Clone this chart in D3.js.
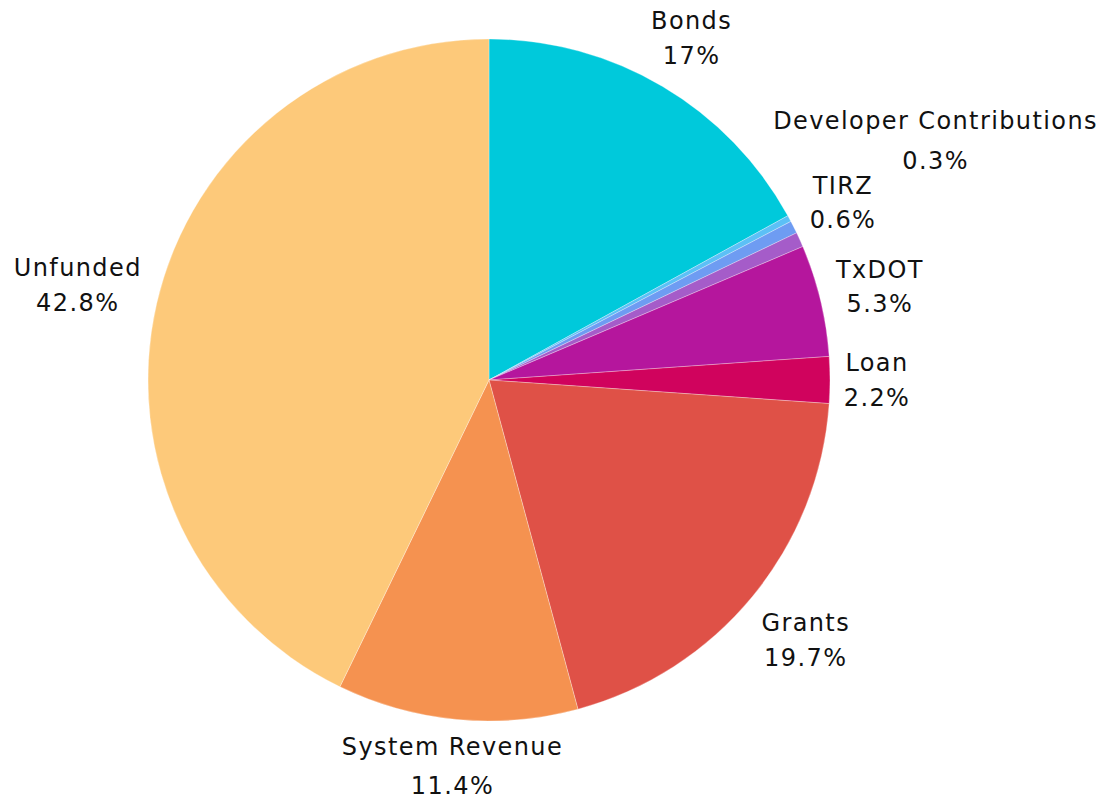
<!DOCTYPE html>
<html>
<head>
<meta charset="utf-8">
<script src="https://cdn.jsdelivr.net/npm/d3@7"></script>
<style>
  html, body { margin: 0; padding: 0; background: #ffffff; }
  svg { display: block; }
  text { font-family: "DejaVu Sans", "Open Sans", sans-serif; fill: #111; letter-spacing: 1.4px; }
</style>
</head>
<body>
<svg id="chart" width="1111" height="804"></svg>
<script>
// Data (clockwise from 12 o'clock)
const categories = ["Bonds", "Developer Contributions", "TIRZ", "Other", "TxDOT", "Loan", "Grants", "System Revenue", "Unfunded"];
const shares     = [17, 0.3, 0.6, 0.7, 5.3, 2.2, 19.7, 11.4, 42.8];
const valueLabels = ["17%", "0.3%", "0.6%", "", "5.3%", "2.2%", "19.7%", "11.4%", "42.8%"];
const showLabel  = [true, true, true, false, true, true, true, true, true];
const colors     = ["#00C9DB", "#5CC0F6", "#6E9CF2", "#A55CC9", "#B5169D", "#D0035D", "#DF5147", "#F59250", "#FDC97A"];

// Layout
const W = 1111, H = 804;
const cx = 489, cy = 380, R = 341;
const labelR   = [398, 507, 396, 0, 402, 388, 410, 388, 422];
const lineGap  = [35, 40, 34, 0, 34, 35, 35, 39, 35];

const svg = d3.select("#chart");
const g = svg.append("g").attr("transform", `translate(${cx},${cy})`);

const data = categories.map((c, i) => ({ name: c, value: shares[i], i }));
const pie = d3.pie().value(d => d.value).sort(null);
const arcs = pie(data);
const arc = d3.arc().innerRadius(0).outerRadius(R);

g.selectAll("path.slice")
  .data(arcs)
  .join("path")
  .attr("class", "slice")
  .attr("d", arc)
  .attr("fill", d => colors[d.data.i])
  .attr("stroke", "#ffffff")
  .attr("stroke-width", 0.5)
  .attr("stroke-opacity", 0.6);

const labels = g.selectAll("g.lbl")
  .data(arcs.filter(d => showLabel[d.data.i]))
  .join("g")
  .attr("class", "lbl")
  .attr("transform", d => {
    const a = (d.startAngle + d.endAngle) / 2;
    const r = labelR[d.data.i];
    return `translate(${r * Math.sin(a)},${-r * Math.cos(a)})`;
  });

labels.append("text")
  .attr("text-anchor", "middle")
  .attr("font-size", 24)
  .attr("y", d => -lineGap[d.data.i] / 2)
  .attr("dy", "0.36em")
  .text(d => d.data.name);

labels.append("text")
  .attr("text-anchor", "middle")
  .attr("font-size", 24)
  .attr("y", d => lineGap[d.data.i] / 2)
  .attr("dy", "0.36em")
  .text(d => valueLabels[d.data.i]);
</script>
</body>
</html>
